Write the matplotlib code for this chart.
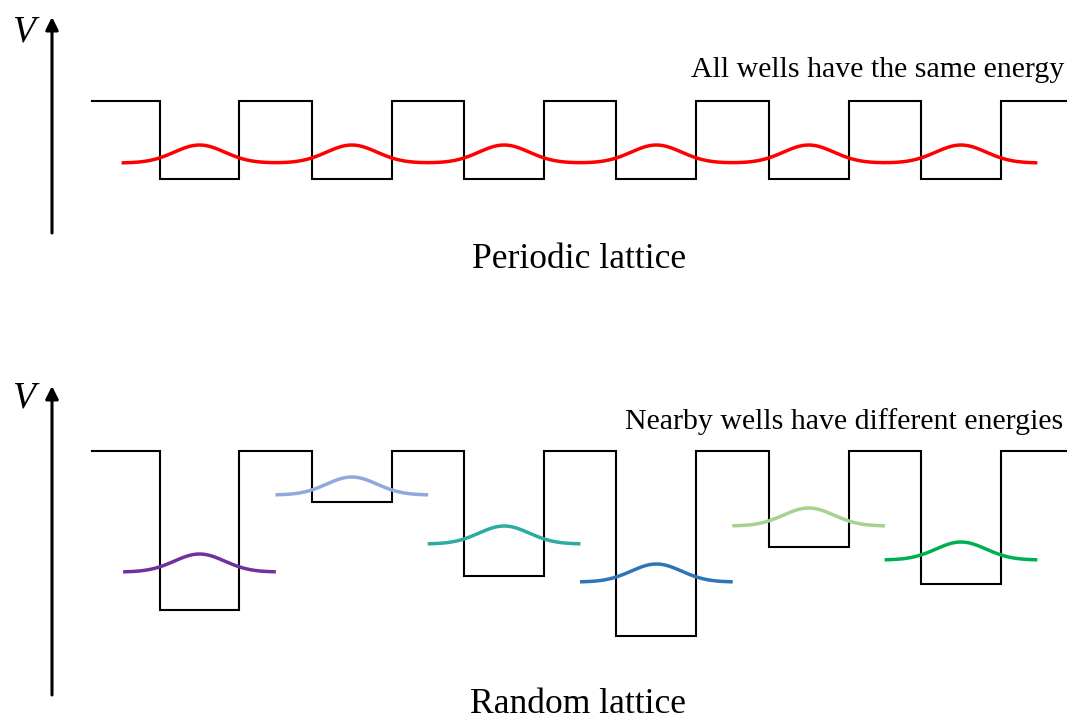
import numpy as np
import matplotlib
matplotlib.use("Agg")
import matplotlib.pyplot as plt

# ---------------- data ----------------
well_centers = [0, 1, 2, 3, 4, 5]          # lattice sites
well_width = 0.525                          # in lattice periods
barrier_span = (-0.706, 5.69)               # extent of the potential line
barrier_level = 0.0

periodic_depth = -0.78
periodic_level = -0.62
periodic_wave_span = (-0.50, 5.49)
periodic_color = "#FF0000"

random_depths = [-1.59, -0.51, -1.25, -1.85, -0.96, -1.33]
random_levels = [-1.21, -0.44, -0.93, -1.31, -0.75, -1.09]
random_colors = ["#7030A0", "#8EA9DB", "#2FAAA2", "#2E75B6", "#A9D18E", "#00B050"]
random_half_span = 0.49

wave_amp = 0.18
wave_sigma = 0.165

top_label = "All wells have the same energy"
bottom_label = "Nearby wells have different energies"
top_title = "Periodic lattice"
bottom_title = "Random lattice"

# ---------------- figure ----------------
W, H, DPI = 1072, 720, 100
fig = plt.figure(figsize=(W / DPI, H / DPI), dpi=DPI)
serif = ["Liberation Serif", "DejaVu Serif"]

x_of_px = lambda px: (px - 199.5) / 152.3
xlim = (x_of_px(0), x_of_px(W))

ax_top = fig.add_axes([0, 0.5, 1, 0.5])
ax_bot = fig.add_axes([0, 0.0, 1, 0.5])
ax_top.set_xlim(*xlim); ax_top.set_ylim(-2.59, 1.01)
ax_bot.set_xlim(*xlim); ax_bot.set_ylim(-2.69, 0.91)
for ax in (ax_top, ax_bot):
    ax.axis("off")


def potential(ax, depths):
    xs = [barrier_span[0]]
    ys = [barrier_level]
    for c, d in zip(well_centers, depths):
        l, r = c - well_width / 2, c + well_width / 2
        xs += [l, l, r, r]
        ys += [barrier_level, d, d, barrier_level]
    xs.append(barrier_span[1]); ys.append(barrier_level)
    ax.plot(xs, ys, color="black", lw=1.5, solid_joinstyle="miter", zorder=2)


def v_axis(ax, y0, y1, label_y):
    xa = x_of_px(52)
    ax.annotate("", xy=(xa, y1), xytext=(xa, y0),
                arrowprops=dict(arrowstyle="-|>", lw=2.2, color="black",
                                mutation_scale=19, shrinkA=0, shrinkB=0))
    ax.text(x_of_px(23.5), label_y, "V", fontsize=27, style="italic",
            family=serif, ha="center", va="center")


# top panel
potential(ax_top, [periodic_depth] * len(well_centers))
xw = np.linspace(*periodic_wave_span, 800)
yw = periodic_level + wave_amp * sum(np.exp(-(xw - c) ** 2 / (2 * wave_sigma ** 2))
                                     for c in well_centers)
ax_top.plot(xw, yw, color=periodic_color, lw=2.5, zorder=3)
v_axis(ax_top, -1.32, 0.84, 0.685)
ax_top.text(x_of_px(1064), 0.24, top_label, fontsize=21.5, family=serif,
            ha="right", va="baseline")
ax_top.text(x_of_px(579), -1.67, top_title, fontsize=25.6, family=serif,
            ha="center", va="baseline")

# bottom panel
potential(ax_bot, random_depths)
for c, lev, col in zip(well_centers, random_levels, random_colors):
    xg = np.linspace(c - random_half_span, c + random_half_span, 300)
    yg = lev + wave_amp * np.exp(-(xg - c) ** 2 / (2 * wave_sigma ** 2))
    ax_bot.plot(xg, yg, color=col, lw=2.5, zorder=3)
v_axis(ax_bot, -2.44, 0.65, 0.525)
ax_bot.text(x_of_px(1063), 0.22, bottom_label, fontsize=21.5, family=serif,
            ha="right", va="baseline")
ax_bot.text(x_of_px(578), -2.62, bottom_title, fontsize=25.6, family=serif,
            ha="center", va="baseline")

fig.savefig("out.png", dpi=DPI, facecolor="white")
